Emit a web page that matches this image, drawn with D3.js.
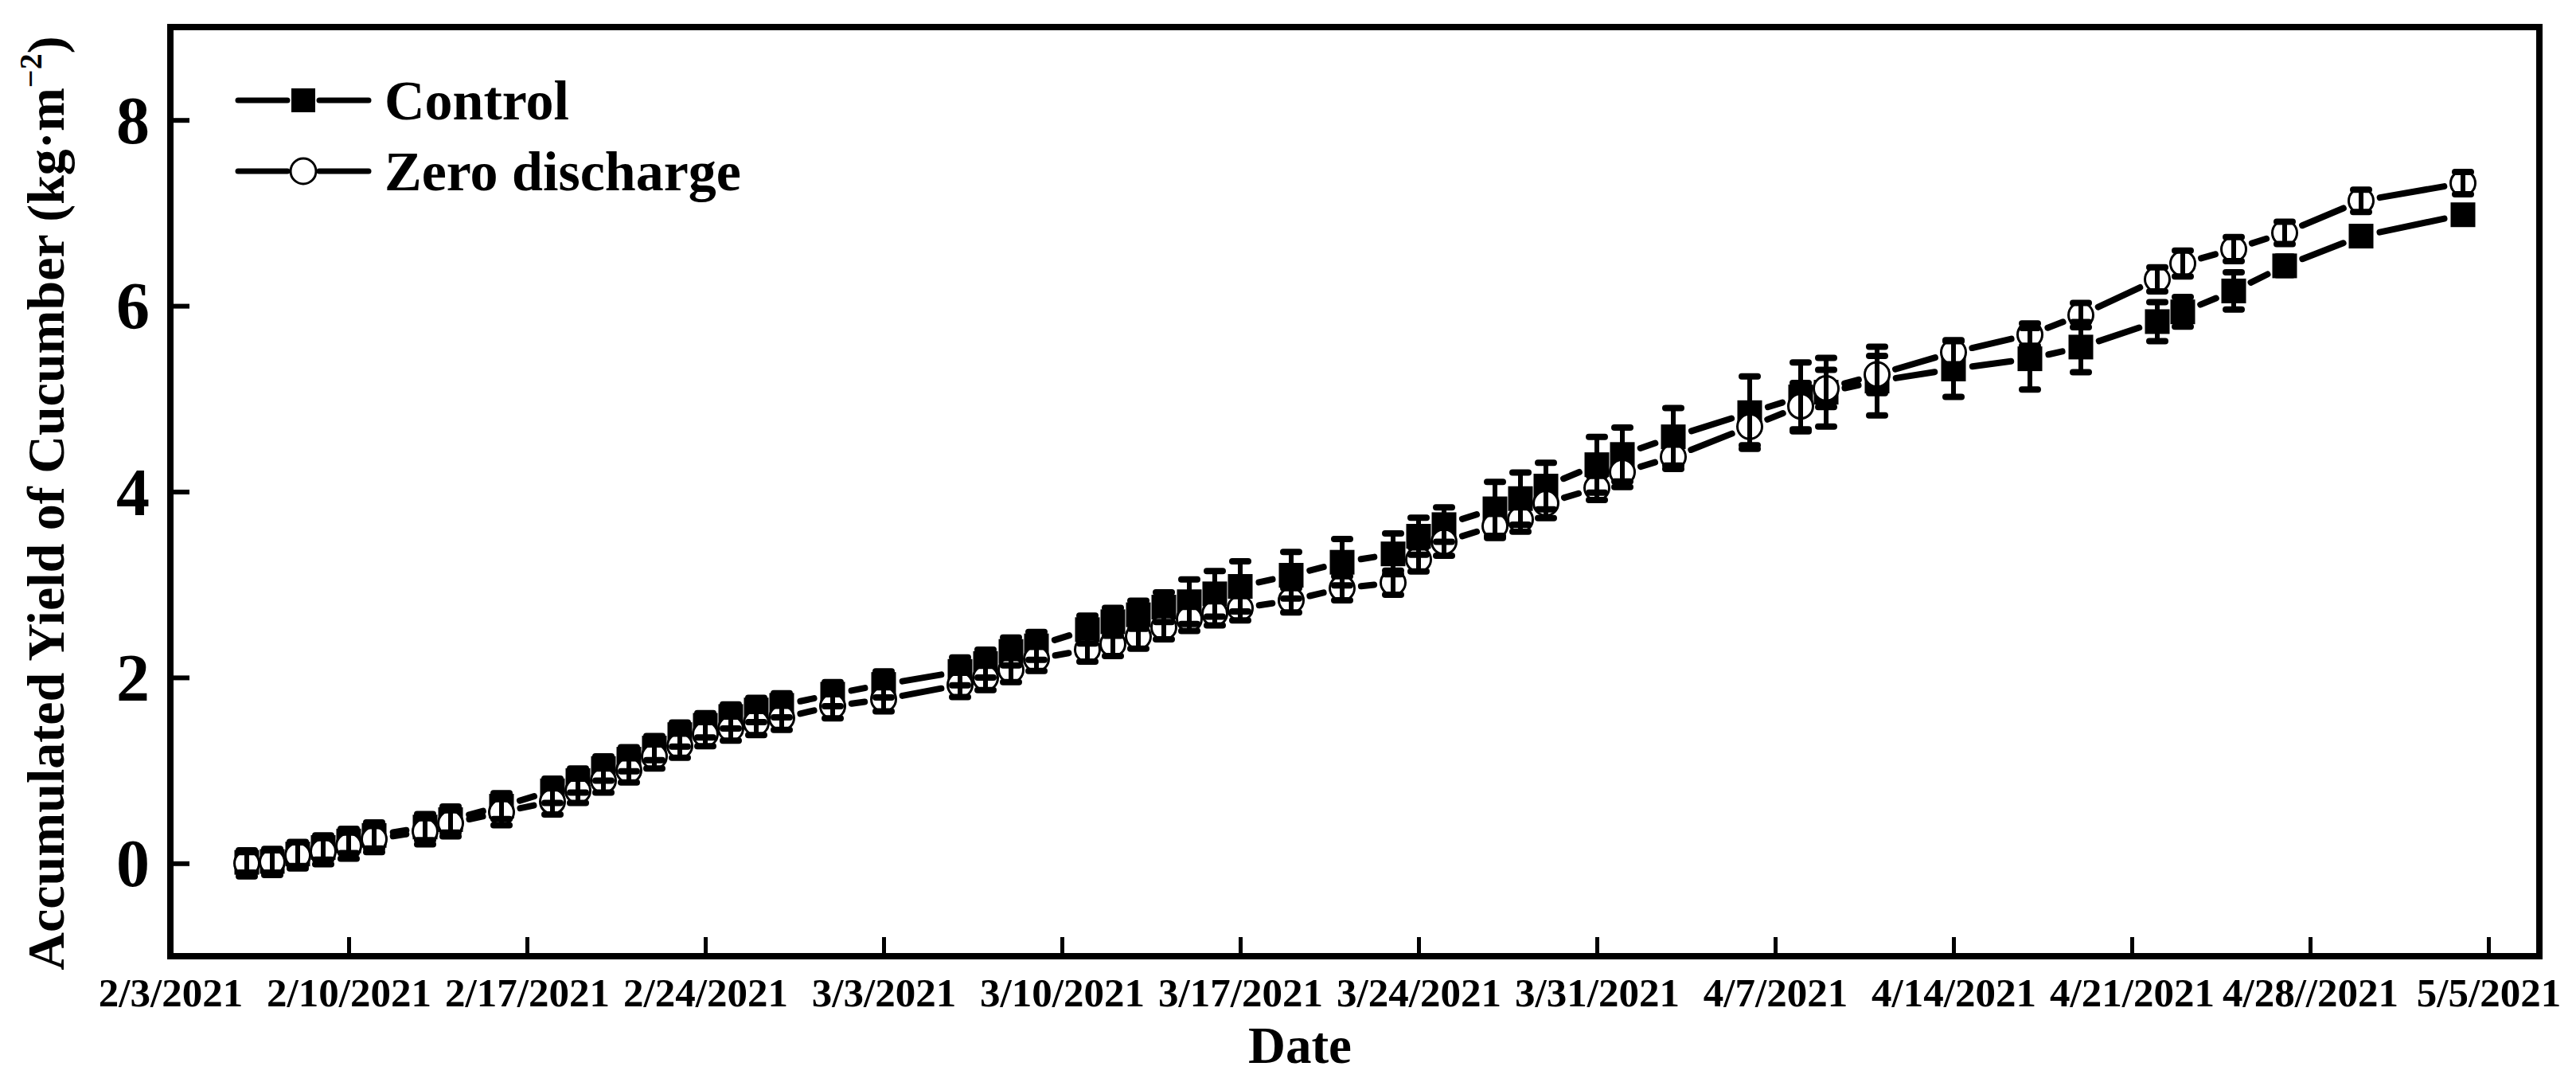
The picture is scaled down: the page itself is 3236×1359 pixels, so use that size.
<!DOCTYPE html>
<html>
<head>
<meta charset="utf-8">
<script src="https://cdn.jsdelivr.net/npm/d3@7"></script>
<style>
  body { margin: 0; background: #fff; }
  svg text { font-family: "Liberation Serif", "Times New Roman", serif; font-weight: bold; fill: #000; }
</style>
</head>
<body>
<div id="chart"></div>
<script>
// harvest dates
var sampleDates = [
  "2021-02-06","2021-02-07","2021-02-08","2021-02-09","2021-02-10","2021-02-11","2021-02-13","2021-02-14",
  "2021-02-16","2021-02-18","2021-02-19","2021-02-20","2021-02-21","2021-02-22","2021-02-23","2021-02-24",
  "2021-02-25","2021-02-26","2021-02-27","2021-03-01","2021-03-03","2021-03-06","2021-03-07","2021-03-08",
  "2021-03-09","2021-03-11","2021-03-12","2021-03-13","2021-03-14","2021-03-15","2021-03-16","2021-03-17",
  "2021-03-19","2021-03-21","2021-03-23","2021-03-24","2021-03-25","2021-03-27","2021-03-28","2021-03-29",
  "2021-03-31","2021-04-01","2021-04-03","2021-04-06","2021-04-08","2021-04-09","2021-04-11","2021-04-14",
  "2021-04-17","2021-04-19","2021-04-22","2021-04-23","2021-04-25","2021-04-27","2021-04-30","2021-05-04"
];

var controlMean = [
  0.01, 0.02, 0.10, 0.17, 0.24, 0.30, 0.39, 0.47,
  0.615, 0.78, 0.89, 1.02, 1.12, 1.24, 1.385, 1.485,
  1.58, 1.65, 1.70, 1.82, 1.925, 2.065, 2.15, 2.28,
  2.34, 2.515, 2.60, 2.675, 2.757, 2.815, 2.90, 2.98,
  3.10, 3.24, 3.33, 3.52, 3.645, 3.815, 3.925, 4.06,
  4.29, 4.40, 4.59, 4.85, 5.02, 5.07, 5.19, 5.32,
  5.43, 5.556, 5.83, 5.935, 6.16, 6.43, 6.75, 6.98
];
var controlErr = [
  0.11, 0.12, 0.13, 0.13, 0.13, 0.14, 0.14, 0.14,
  0.14, 0.13, 0.13, 0.13, 0.13, 0.13, 0.13, 0.13,
  0.13, 0.13, 0.13, 0.13, 0.14, 0.15, 0.15, 0.15,
  0.15, 0.15, 0.15, 0.15, 0.16, 0.24, 0.245, 0.27,
  0.25, 0.25, 0.22, 0.20, 0.185, 0.29, 0.28, 0.25,
  0.30, 0.29, 0.31, 0.39, 0.37, 0.37, 0.37, 0.30,
  0.33, 0.27, 0.21, 0.16, 0.20, 0.10, 0.08, 0.07
];

var zeroMean = [
  0.0, 0.015, 0.085, 0.13, 0.19, 0.26, 0.345, 0.43,
  0.55, 0.665, 0.78, 0.89, 1.0, 1.15, 1.265, 1.39,
  1.45, 1.51, 1.565, 1.69, 1.765, 1.92, 1.995, 2.08,
  2.20, 2.30, 2.36, 2.44, 2.54, 2.63, 2.69, 2.745,
  2.83, 2.96, 3.02, 3.27, 3.46, 3.63, 3.70, 3.875,
  4.04, 4.21, 4.375, 4.70, 4.92, 5.11, 5.26, 5.50,
  5.69, 5.90, 6.285, 6.455, 6.61, 6.785, 7.13, 7.32
];
var zeroErr = [
  0.14, 0.14, 0.14, 0.14, 0.14, 0.14, 0.14, 0.14,
  0.14, 0.14, 0.13, 0.13, 0.13, 0.13, 0.13, 0.13,
  0.13, 0.13, 0.13, 0.13, 0.13, 0.13, 0.13, 0.13,
  0.13, 0.13, 0.13, 0.13, 0.13, 0.13, 0.13, 0.13,
  0.13, 0.13, 0.13, 0.13, 0.15, 0.13, 0.13, 0.16,
  0.13, 0.16, 0.13, 0.20, 0.25, 0.20, 0.20, 0.13,
  0.12, 0.13, 0.13, 0.14, 0.13, 0.12, 0.12, 0.12
];

var seriesNames = ["Control", "Zero discharge"];

var xTickDates = [
  "2021-02-03","2021-02-10","2021-02-17","2021-02-24","2021-03-03","2021-03-10","2021-03-17",
  "2021-03-24","2021-03-31","2021-04-07","2021-04-14","2021-04-21","2021-04-28","2021-05-05"
];
var xTickLabels = [
  "2/3/2021","2/10/2021","2/17/2021","2/24/2021","3/3/2021","3/10/2021","3/17/2021",
  "3/24/2021","3/31/2021","4/7/2021","4/14/2021","4/21/2021","4/28//2021","5/5/2021"
];
var yTickValues = [0, 2, 4, 6, 8];

var W = 3236, H = 1359;
var margin = {top: 34, left: 214, right: 46, bottom: 158};
var width = W - margin.left - margin.right;
var height = H - margin.top - margin.bottom;

var parse = d3.utcParse("%Y-%m-%d");

var svg = d3.select('#chart').append('svg')
  .attr('width', W)
  .attr('height', H);

var plot = svg.append('g')
  .attr('transform', `translate(${margin.left},${margin.top})`);

var x = d3.scaleUtc()
  .domain([parse("2021-02-03"), parse("2021-05-07")])
  .range([0, width]);
var y = d3.scaleLinear()
  .domain([-1, 9])
  .range([height, 0]);

var series = [
  {name: seriesNames[0], mean: controlMean, err: controlErr, symbol: 'square'},
  {name: seriesNames[1], mean: zeroMean, err: zeroErr, symbol: 'circle'}
];
series.forEach(function(s){
  s.points = sampleDates.map(function(d, i){
    return {date: parse(d), v: s.mean[i], e: s.err[i]};
  });
});

// connecting lines, with a gap around each symbol
var gap = 24;
series.forEach(function(s){
  var segs = [];
  for (var i = 0; i < s.points.length - 1; i++) {
    var x1 = x(s.points[i].date), y1 = y(s.points[i].v);
    var x2 = x(s.points[i + 1].date), y2 = y(s.points[i + 1].v);
    var len = Math.hypot(x2 - x1, y2 - y1);
    if (len <= 2 * gap + 2) continue;
    var ux = (x2 - x1) / len, uy = (y2 - y1) / len;
    segs.push([x1 + ux * gap, y1 + uy * gap, x2 - ux * gap, y2 - uy * gap]);
  }
  plot.append('g').attr('class', 'line-' + s.symbol)
    .selectAll('line')
    .data(segs)
    .enter()
    .append('line')
    .attr('x1', function(d){ return d[0]; })
    .attr('y1', function(d){ return d[1]; })
    .attr('x2', function(d){ return d[2]; })
    .attr('y2', function(d){ return d[3]; })
    .attr('stroke', '#000')
    .attr('stroke-width', 8)
    .attr('stroke-linecap', 'round');
});

// symbols
var sq = 31;
plot.append('g').selectAll('rect')
  .data(series[0].points)
  .enter()
  .append('rect')
  .attr('x', function(d){ return x(d.date) - sq / 2; })
  .attr('y', function(d){ return y(d.v) - sq / 2; })
  .attr('width', sq)
  .attr('height', sq)
  .attr('fill', '#000');

plot.append('g').selectAll('circle')
  .data(series[1].points)
  .enter()
  .append('circle')
  .attr('cx', function(d){ return x(d.date); })
  .attr('cy', function(d){ return y(d.v); })
  .attr('r', 15.5)
  .attr('fill', '#fff')
  .attr('stroke', '#000')
  .attr('stroke-width', 3);

// error bars
series.forEach(function(s){
  var g = plot.append('g').attr('class', 'err-' + s.symbol)
    .selectAll('g')
    .data(s.points)
    .enter()
    .append('g');
  g.append('line')
    .attr('x1', function(d){ return x(d.date); })
    .attr('x2', function(d){ return x(d.date); })
    .attr('y1', function(d){ return y(d.v - d.e); })
    .attr('y2', function(d){ return y(d.v + d.e); })
    .attr('stroke', '#000')
    .attr('stroke-width', 6);
  [-1, 1].forEach(function(sign){
    g.append('line')
      .attr('x1', function(d){ return x(d.date) - 10; })
      .attr('x2', function(d){ return x(d.date) + 10; })
      .attr('y1', function(d){ return y(d.v + sign * d.e); })
      .attr('y2', function(d){ return y(d.v + sign * d.e); })
      .attr('stroke', '#000')
      .attr('stroke-width', 8)
      .attr('stroke-linecap', 'round');
  });
});

// axes
var xAxis = d3.axisBottom(x)
  .tickValues(xTickDates.map(parse))
  .tickFormat(function(d, i){ return xTickLabels[i]; })
  .tickSizeInner(-24)
  .tickSizeOuter(0);
var gx = plot.append('g')
  .attr('transform', `translate(0,${height})`)
  .call(xAxis);
gx.select('.domain').remove();
gx.selectAll('.tick line').attr('stroke', '#000').attr('stroke-width', 5);
gx.selectAll('.tick text')
  .attr('y', 63)
  .attr('dy', null)
  .style('font-size', '51px');

var yAxis = d3.axisLeft(y)
  .tickValues(yTickValues)
  .tickSizeInner(-24)
  .tickSizeOuter(0);
var gy = plot.append('g').call(yAxis);
gy.select('.domain').remove();
gy.selectAll('.tick line').attr('stroke', '#000').attr('stroke-width', 6);
gy.selectAll('.tick text')
  .attr('x', -26)
  .attr('dy', '0.34em')
  .style('font-size', '84px');

// frame
plot.append('rect')
  .attr('x', 0)
  .attr('y', 0)
  .attr('width', width)
  .attr('height', height)
  .attr('fill', 'none')
  .attr('stroke', '#000')
  .attr('stroke-width', 8);

// axis titles
svg.append('text')
  .attr('x', 1633)
  .attr('y', 1335)
  .attr('text-anchor', 'middle')
  .style('font-size', '65px')
  .text('Date');

var yt = svg.append('text')
  .attr('transform', 'translate(80,632) rotate(-90)')
  .attr('text-anchor', 'middle')
  .style('font-size', '66px');
yt.append('tspan').text('Accumulated Yield of Cucumber (kg\u00b7m');
yt.append('tspan').attr('dy', -28).style('font-size', '40px').text('\u22122');
yt.append('tspan').attr('dy', 28).text(')');

// legend
var legend = svg.append('g').attr('transform', 'translate(299,0)');
var rows = [{y: 126, s: series[0]}, {y: 215, s: series[1]}];
rows.forEach(function(r){
  var g = legend.append('g').attr('transform', `translate(0,${r.y})`);
  g.append('line').attr('x1', 0).attr('x2', 62).attr('y1', 0).attr('y2', 0)
    .attr('stroke', '#000').attr('stroke-width', 7).attr('stroke-linecap', 'round');
  g.append('line').attr('x1', 102).attr('x2', 164).attr('y1', 0).attr('y2', 0)
    .attr('stroke', '#000').attr('stroke-width', 7).attr('stroke-linecap', 'round');
  if (r.s.symbol === 'square') {
    g.append('rect').attr('x', 82 - 15).attr('y', -15)
      .attr('width', 30).attr('height', 30).attr('fill', '#000');
  } else {
    g.append('circle').attr('cx', 82).attr('cy', 0).attr('r', 16)
      .attr('fill', '#fff').attr('stroke', '#000').attr('stroke-width', 3);
  }
  g.append('text')
    .attr('x', 184)
    .attr('y', 24)
    .style('font-size', '70px')
    .text(r.s.name);
});
</script>
</body>
</html>
